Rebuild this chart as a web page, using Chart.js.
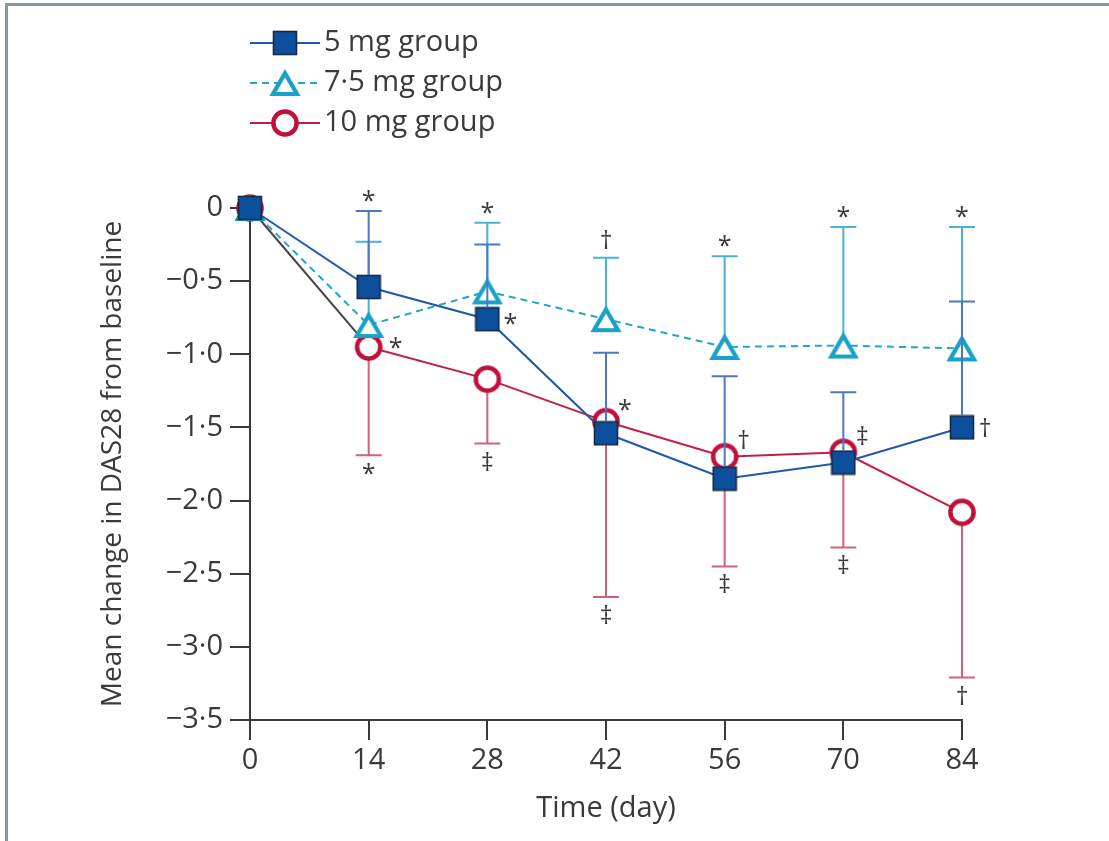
<!DOCTYPE html>
<html>
<head>
<meta charset="utf-8">
<script src="https://cdn.jsdelivr.net/npm/chart.js@4.4.1/dist/chart.umd.min.js"></script>
<style>
  html, body { margin: 0; padding: 0; background: #fff; }
  #wrap { position: relative; width: 1109px; height: 841px; overflow: hidden; }
  #frame { position: absolute; left: 5px; top: 3px; width: 1300px; height: 1000px;
           border-top: 3px solid #8397a4; border-left: 3px solid #8397a4; }
  canvas { position: absolute; left: 0; top: 0; }
</style>
</head>
<body>
<div id="wrap">
  <div id="frame"></div>
  <canvas id="chart" width="1109" height="841"></canvas>
</div>
<script>
// days of follow-up
const days = [0, 14, 28, 42, 56, 70, 84];
const yTicks = [0, -0.5, -1, -1.5, -2, -2.5, -3, -3.5];

// mean change in DAS28 per group
const mean5  = [0, -0.54, -0.76, -1.54, -1.85, -1.74, -1.50];
const mean75 = [0, -0.80, -0.57, -0.76, -0.95, -0.94, -0.96];
const mean10 = [0, -0.95, -1.17, -1.46, -1.70, -1.67, -2.08];

// one-sided error bar ends
const upper5  = [null, -0.02, -0.25, -0.99, -1.15, -1.26, -0.64];
const upper75 = [null, -0.23, -0.10, -0.34, -0.33, -0.13, -0.13];
const lower10 = [null, -1.69, -1.61, -2.66, -2.45, -2.32, -3.21];

// significance marks
const capMarks5   = [null, '*', null, null, null, null, null];
const capMarks75  = [null, null, '*', '\u2020', '*', '*', '*'];
const capMarks10  = [null, '*', '\u2021', '\u2021', '\u2021', '\u2021', '\u2020'];
const pointMarks5  = [null, null, '*', null, null, null, '\u2020'];
const pointMarks10 = [null, '*', null, '*', '\u2020', '\u2021', null];

const labels = ['5 mg group', '7\u00B75 mg group', '10 mg group'];

const FONT = '"Open Sans", sans-serif';
const INK = '#3a3a3a';
const C5 = '#1e5aa8', C75 = '#22a5cd', C10 = '#c41d48';

function squareImg() {
  const c = document.createElement('canvas');
  c.width = 26; c.height = 26;
  const g = c.getContext('2d');
  g.fillStyle = '#0b4f9d';
  g.fillRect(1.5, 1.5, 23, 23);
  g.strokeStyle = '#1b2a44';
  g.lineWidth = 1.6;
  g.strokeRect(1.5, 1.5, 23, 23);
  return c;
}
function triangleImg() {
  const c = document.createElement('canvas');
  c.width = 34; c.height = 30;
  const g = c.getContext('2d');
  g.beginPath();
  g.moveTo(17, 5.2); g.lineTo(29, 26); g.lineTo(5, 26); g.closePath();
  g.fillStyle = '#fff'; g.fill();
  g.strokeStyle = '#1aa1c7'; g.lineWidth = 4.2; g.lineJoin = 'miter';
  g.stroke();
  return c;
}
function circleImg() {
  const c = document.createElement('canvas');
  c.width = 30; c.height = 30;
  const g = c.getContext('2d');
  g.beginPath();
  g.arc(15, 15, 11.6, 0, Math.PI * 2);
  g.fillStyle = '#fff'; g.fill();
  g.strokeStyle = '#c0113c'; g.lineWidth = 4.5;
  g.stroke();
  return c;
}
const sq = squareImg(), tri = triangleImg(), circ = circleImg();

function pts(vals) { return days.map((d, i) => ({ x: d, y: vals[i] })); }

function drawBar(ctx, x, y0, y1, color) {
  ctx.save();
  ctx.strokeStyle = color;
  ctx.lineWidth = 2;
  ctx.beginPath();
  ctx.moveTo(x, y0); ctx.lineTo(x, y1);
  ctx.moveTo(x - 13, y1); ctx.lineTo(x + 13, y1);
  ctx.stroke();
  ctx.restore();
}

function drawMark(ctx, sym, x, y, anchor) {
  ctx.save();
  ctx.font = '25px ' + FONT;
  ctx.fillStyle = INK;
  ctx.textAlign = 'center';
  ctx.textBaseline = 'alphabetic';
  const m = ctx.measureText(sym);
  const asc = m.actualBoundingBoxAscent, desc = m.actualBoundingBoxDescent;
  let by;
  if (anchor === 'bottom') by = y - desc;
  else if (anchor === 'top') by = y + asc;
  else by = y + (asc - desc) / 2;
  ctx.fillText(sym, x, by);
  ctx.restore();
}

const errorBars = {
  id: 'errorBars',
  beforeDatasetsDraw(chart) {
    const { ctx, scales: { x, y } } = chart;
    days.forEach((d, i) => {
      const px = x.getPixelForValue(d);
      if (upper75[i] !== null) drawBar(ctx, px, y.getPixelForValue(mean75[i]), y.getPixelForValue(upper75[i]), '#4ab2d6');
      if (lower10[i] !== null) drawBar(ctx, px, y.getPixelForValue(mean10[i]), y.getPixelForValue(lower10[i]), '#d2607b');
    });
  },
  afterDatasetsDraw(chart) {
    const { ctx, scales: { x, y } } = chart;
    days.forEach((d, i) => {
      const px = x.getPixelForValue(d);
      if (upper5[i] !== null) drawBar(ctx, px, y.getPixelForValue(mean5[i]) - 12, y.getPixelForValue(upper5[i]), '#4b78c2');
    });
    days.forEach((d, i) => {
      const px = x.getPixelForValue(d);
      if (capMarks5[i]) drawMark(ctx, capMarks5[i], px, y.getPixelForValue(upper5[i]) - 9, 'bottom');
      if (capMarks75[i]) drawMark(ctx, capMarks75[i], px, y.getPixelForValue(upper75[i]) - 9, 'bottom');
      if (capMarks10[i]) drawMark(ctx, capMarks10[i], px, y.getPixelForValue(lower10[i]) + 8, 'top');
      if (pointMarks5[i]) drawMark(ctx, pointMarks5[i], px + 23, y.getPixelForValue(mean5[i]), 'center');
      if (pointMarks10[i]) {
        const py = y.getPixelForValue(mean10[i]);
        if (i === 1) drawMark(ctx, pointMarks10[i], px + 27, py - 4, 'center');
        else drawMark(ctx, pointMarks10[i], px + 19, py - 17, 'center');
      }
    });
  },
  afterDraw(chart) {
    const ctx = chart.ctx;
    const rows = [
      { color: C5, dash: [], img: sq },
      { color: C75, dash: [7, 5], img: tri },
      { color: C10, dash: [], img: circ }
    ];
    rows.forEach((r, i) => {
      const ly = 43 + i * 40;
      ctx.save();
      ctx.strokeStyle = r.color;
      ctx.lineWidth = 2;
      ctx.setLineDash(r.dash);
      ctx.beginPath();
      ctx.moveTo(250, ly); ctx.lineTo(320, ly);
      ctx.stroke();
      ctx.restore();
      ctx.drawImage(r.img, 285 - r.img.width / 2, ly - r.img.height / 2);
      ctx.save();
      ctx.font = '29px ' + FONT;
      ctx.fillStyle = INK;
      ctx.textBaseline = 'middle';
      ctx.fillText(labels[i], 324, ly);
      ctx.restore();
    });
  }
};

const tickFont = { family: FONT, size: 29 };

new Chart(document.getElementById('chart'), {
  type: 'line',
  data: {
    datasets: [
      { label: labels[0], data: pts(mean5), borderColor: C5, borderWidth: 2,
        pointStyle: sq, pointRadius: 12, clip: false },
      { label: labels[1], data: pts(mean75), borderColor: C75, borderWidth: 2, borderDash: [7, 5],
        pointStyle: tri, pointRadius: 12, clip: false },
      { label: labels[2], data: pts(mean10), borderColor: C10, borderWidth: 2,
        pointStyle: circ, pointRadius: 12, clip: false,
        segment: { borderColor: c => c.p0DataIndex === 0 ? '#454545' : undefined } }
    ]
  },
  options: {
    responsive: false,
    devicePixelRatio: 1,
    animation: false,
    events: [],
    layout: { padding: { left: 0, right: 147, top: 208, bottom: 0 } },
    plugins: { legend: { display: false }, tooltip: { enabled: false } },
    scales: {
      x: {
        type: 'linear', min: 0, max: 84,
        afterBuildTicks: s => { s.ticks = days.map(v => ({ value: v })); },
        afterFit: s => { s.height = 121; },
        ticks: { color: INK, font: tickFont, padding: 3, maxRotation: 0, autoSkip: false },
        grid: { drawOnChartArea: false, tickLength: 20, tickColor: INK, lineWidth: 2 },
        border: { color: INK, width: 2 },
        title: { display: true, text: 'Time (day)', color: INK, font: tickFont, padding: { top: 0, bottom: 15 } }
      },
      y: {
        type: 'linear', min: -3.5, max: 0,
        afterBuildTicks: s => { s.ticks = yTicks.map(v => ({ value: v })); },
        afterFit: s => { s.width = 250; },
        ticks: {
          color: INK, font: tickFont, padding: 7,
          callback: v => v === 0 ? '0' : '\u2212' + Math.abs(v).toFixed(1).replace('.', '\u00B7')
        },
        grid: { drawOnChartArea: false, tickLength: 20, tickColor: INK, lineWidth: 2 },
        border: { color: INK, width: 2 },
        title: { display: true, text: 'Mean change in DAS28 from baseline', color: INK,
                 font: { family: FONT, size: 28 }, padding: { top: 96, bottom: 0 } }
      }
    }
  },
  plugins: [errorBars]
});
</script>
</body>
</html>
